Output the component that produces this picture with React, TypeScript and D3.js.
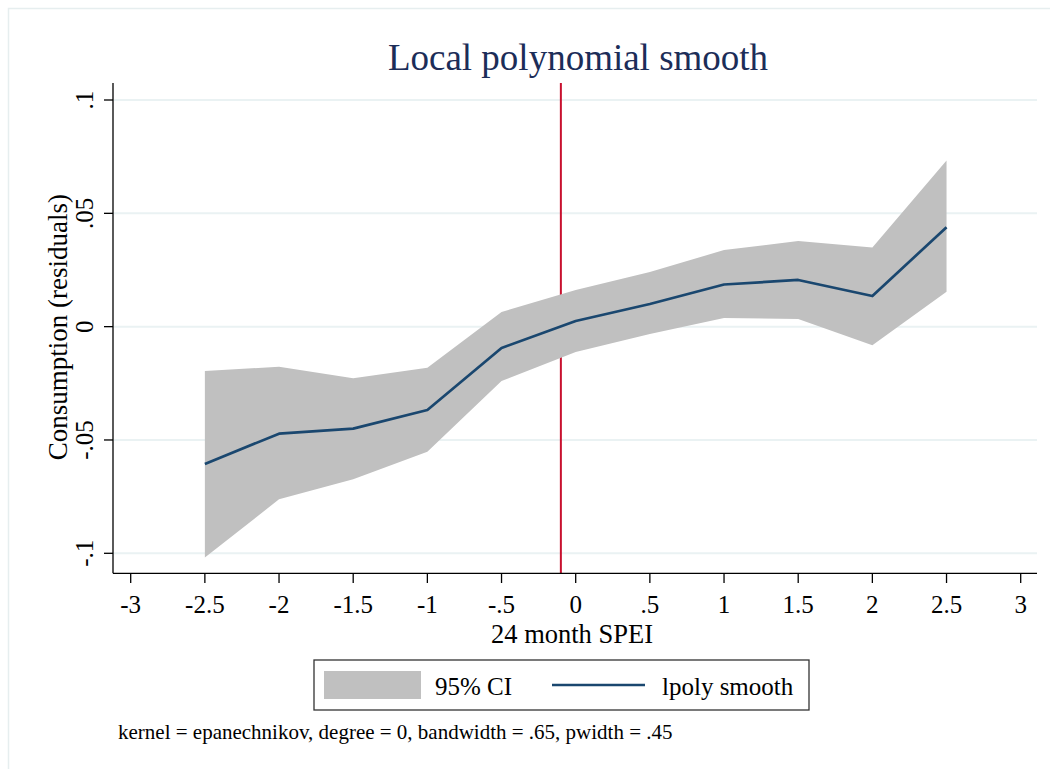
import React from "react";
import * as d3 from "d3";

const xPoints = [-2.5, -2, -1.5, -1, -0.5, 0, 0.5, 1, 1.5, 2, 2.5];
const smoothValues = [-0.0606, -0.0472, -0.045, -0.0368, -0.0094, 0.0025, 0.0100, 0.0186, 0.0206, 0.0135, 0.0439];
const ciUpper = [-0.0196, -0.0177, -0.0228, -0.0181, 0.0065, 0.0162, 0.0241, 0.0338, 0.0378, 0.0349, 0.0733];
const ciLower = [-0.1018, -0.0762, -0.0673, -0.0552, -0.0240, -0.0112, -0.0032, 0.0038, 0.0034, -0.0082, 0.0154];
const xTicks = [-3, -2.5, -2, -1.5, -1, -0.5, 0, 0.5, 1, 1.5, 2, 2.5, 3];
const xTickLabels = ["-3", "-2.5", "-2", "-1.5", "-1", "-.5", "0", ".5", "1", "1.5", "2", "2.5", "3"];
const yTicks = [-0.1, -0.05, 0, 0.05, 0.1];
const yTickLabels = ["-.1", "-.05", "0", ".05", ".1"];
const xLineValue = -0.1;

const title = "Local polynomial smooth";
const xTitle = "24 month SPEI";
const yTitle = "Consumption (residuals)";
const legendLabels = ["95% CI", "lpoly smooth"];
const note = "kernel = epanechnikov, degree = 0, bandwidth = .65, pwidth = .45";

const FONT = "'Liberation Serif', 'Times New Roman', serif";
const C = {
  grid: "#eaf2f3",
  line: "#1a476f",
  ci: "#c0c0c0",
  red: "#c8102e",
  title: "#1c2d58",
  axis: "#000000",
  border: "#e6eeef",
};

export default function App() {
  const W = 1050, H = 769;
  const plotLeft = 113, plotRight = 1037, plotTop = 83, plotBottom = 573.3;
  const x = d3.scaleLinear().domain([-3, 3]).range([130.7, 1020.7]);
  const y = d3.scaleLinear().domain([-0.1, 0.1]).range([553.3, 100]);

  const data = xPoints.map((xv, i) => ({ x: xv, m: smoothValues[i], lo: ciLower[i], hi: ciUpper[i] }));
  const area = d3.area<any>().x(d => x(d.x)).y0(d => y(d.lo)).y1(d => y(d.hi));
  const line = d3.line<any>().x(d => x(d.x)).y(d => y(d.m));

  return (
    <svg width={W} height={H} style={{ position: "absolute", left: 0, top: 0, background: "#fff" }} fontFamily={FONT}>
      <rect x={0} y={0} width={W} height={H} fill="#fff" />
      <rect x={8.5} y={8.5} width={1200} height={1200} fill="none" stroke={C.border} strokeWidth={1.5} />
      <text x={578} y={70} textAnchor="middle" fontSize={37} fill={C.title}>{title}</text>

      {/* gridlines */}
      {yTicks.map((t, i) => (
        <line key={"g" + i} x1={plotLeft} x2={plotRight} y1={y(t)} y2={y(t)} stroke={C.grid} strokeWidth={2} />
      ))}

      {/* xline */}
      <line x1={x(xLineValue)} x2={x(xLineValue)} y1={plotTop} y2={plotBottom} stroke={C.red} strokeWidth={2} />

      {/* CI area */}
      <path d={area(data) || ""} fill={C.ci} />
      <path d={line(data) || ""} fill="none" stroke={C.line} strokeWidth={2.7} strokeLinejoin="round" />

      {/* axes */}
      <line x1={plotLeft} x2={plotLeft} y1={plotTop} y2={plotBottom} stroke={C.axis} strokeWidth={1.3} />
      <line x1={plotLeft} x2={plotRight} y1={plotBottom} y2={plotBottom} stroke={C.axis} strokeWidth={1.3} />
      {yTicks.map((t, i) => (
        <g key={"yt" + i}>
          <line x1={104} x2={plotLeft} y1={y(t)} y2={y(t)} stroke={C.axis} strokeWidth={1.3} />
          <text transform={`translate(93,${y(t)}) rotate(-90)`} textAnchor="middle" fontSize={25} fill="#000">{yTickLabels[i]}</text>
        </g>
      ))}
      {xTicks.map((t, i) => (
        <g key={"xt" + i}>
          <line x1={x(t)} x2={x(t)} y1={plotBottom} y2={583} stroke={C.axis} strokeWidth={1.3} />
          <text x={x(t)} y={613} textAnchor="middle" fontSize={25} fill="#000">{xTickLabels[i]}</text>
        </g>
      ))}
      <text x={572} y={643} textAnchor="middle" fontSize={26.5} fill="#000">{xTitle}</text>
      <text transform={`translate(67,${(plotTop + plotBottom) / 2 - 1}) rotate(-90)`} textAnchor="middle" fontSize={27} fill="#000">{yTitle}</text>

      {/* legend */}
      <rect x={314} y={660} width={495} height={50} fill="#fff" stroke="#333" strokeWidth={1.3} />
      <rect x={324} y={671} width={97} height={28} fill={C.ci} />
      <text x={435} y={695} fontSize={25} fill="#000">{legendLabels[0]}</text>
      <line x1={552} x2={645} y1={685} y2={685} stroke={C.line} strokeWidth={2.7} />
      <text x={662} y={695} fontSize={25} fill="#000">{legendLabels[1]}</text>

      <text x={118} y={739} fontSize={21} fill="#000">{note}</text>
    </svg>
  );
}
